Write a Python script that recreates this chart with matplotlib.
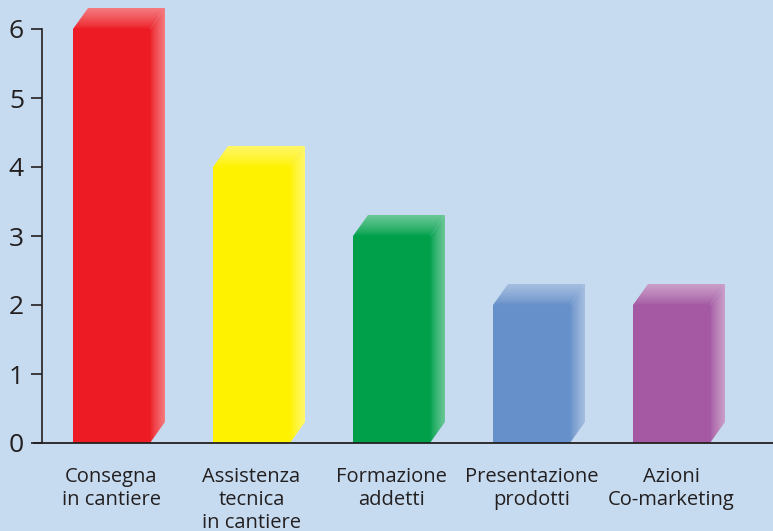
import numpy as np
import matplotlib
matplotlib.use("Agg")
import matplotlib.pyplot as plt
from matplotlib.patches import Polygon
from matplotlib.lines import Line2D
from matplotlib.colors import to_rgb

categories = ["Consegna\nin cantiere", "Assistenza\ntecnica\nin cantiere",
              "Formazione\naddetti", "Presentazione\nprodotti", "Azioni\nCo-marketing"]
values = [6, 4, 3, 2, 2]
colors = ["#ED1C24", "#FFF200", "#00A04B", "#6690C9", "#A459A2"]
yticks = [0, 1, 2, 3, 4, 5, 6]

bg = "#C6DBF0"
W, H = 773, 531
fig = plt.figure(figsize=(W / 100, H / 100), dpi=100, facecolor=bg)
ax = fig.add_axes([42 / W, 88 / H, (W - 42) / W, 443 / H])
ax.set_facecolor(bg)

px_x = 140.0   # pixels per category
px_y = 69.0    # pixels per unit
ax.set_xlim(-69.5 / px_x, -69.5 / px_x + (W - 42) / px_x)
ax.set_ylim(0, 443 / px_y)

bw = 0.55
dx = 15 / px_x
dy = 21 / px_y


def lighten(c, f):
    c = np.array(to_rgb(c))
    return c + (1 - c) * f


def grad_patch(poly_pts, c0, c1, horizontal=True):
    poly = Polygon(poly_pts, closed=True, facecolor="none", edgecolor="none")
    ax.add_patch(poly)
    xs = [p[0] for p in poly_pts]
    ys = [p[1] for p in poly_pts]
    t = np.linspace(0, 1, 64) ** 0.8
    cols = np.array([c0 * (1 - s) + c1 * s for s in t])
    if horizontal:
        img = cols[np.newaxis, :, :]
    else:
        img = cols[::-1][:, np.newaxis, :]
    im = ax.imshow(img, extent=[min(xs), max(xs), min(ys), max(ys)],
                   aspect="auto", interpolation="bilinear", zorder=2)
    im.set_clip_path(poly)


for i, (v, c) in enumerate(zip(values, colors)):
    x0, x1 = i - bw / 2, i + bw / 2
    base = np.array(to_rgb(c))
    light = lighten(c, 0.42)
    ax.bar(i, v, width=bw, color=c, zorder=3, linewidth=0)
    # side face
    grad_patch([(x1, 0), (x1 + dx, dy), (x1 + dx, v + dy), (x1, v)],
               base, light, horizontal=True)
    # top face
    grad_patch([(x0, v), (x0 + dx, v + dy), (x1 + dx, v + dy), (x1, v)],
               base, light, horizontal=False)

ax.set_xticks(range(len(categories)))
ax.set_xticklabels(categories, fontsize=14.5, family="Open Sans", color="#231F20",
                   linespacing=1.2)
ax.tick_params(axis="x", length=0, pad=17)
for lbl in ax.get_xticklabels():
    lbl.set_va("top")

ax.set_yticks(yticks)
ax.set_yticklabels([str(t) for t in yticks], fontsize=19, family="Open Sans",
                   color="#231F20")
ax.tick_params(axis="y", length=8, width=1.2, color="#231F20", pad=5)

for s in ["top", "right", "bottom"]:
    ax.spines[s].set_visible(False)
ax.spines["left"].set_bounds(0, 6)
ax.spines["left"].set_color("#231F20")
ax.spines["left"].set_linewidth(1.2)

fig.add_artist(Line2D([34 / W, 1], [88 / H, 88 / H], color="#231F20", lw=1.3))

fig.savefig("out.png", dpi=100, facecolor=bg)
